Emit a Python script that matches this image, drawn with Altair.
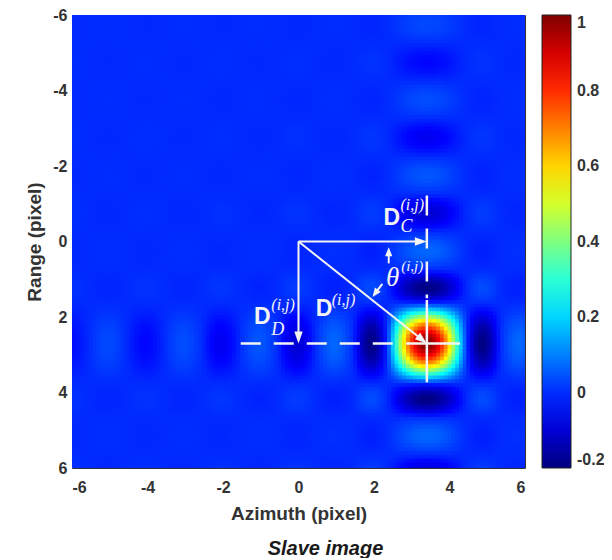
import math
import altair as alt
import pandas as pd

alt.data_transformers.disable_max_rows()

# ---------------- data ----------------
# sample positions of the image (pixel units), 0.1 apart
azimuth_grid = [round(-6 + 0.1 * i, 1) for i in range(121)]
range_grid = [round(-6 + 0.1 * i, 1) for i in range(121)]

# response profile along azimuth (row through the target, range = 2.7)
azimuth_profile = [
    -0.035, -0.032, -0.026, -0.016, -0.005, 0.005, 0.015, 0.025, 0.032, 0.035,
    0.035, 0.032, 0.025, 0.015, 0.005, -0.007, -0.02, -0.032, -0.04, -0.045,
    -0.045, -0.04, -0.032, -0.02, -0.007, 0.006, 0.018, 0.028, 0.036, 0.04,
    0.04, 0.036, 0.028, 0.018, 0.006, -0.01, -0.03, -0.045, -0.058, -0.065,
    -0.065, -0.058, -0.045, -0.03, -0.01, 0.008, 0.022, 0.035, 0.045, 0.05,
    0.05, 0.045, 0.035, 0.022, 0.008, -0.015, -0.045, -0.07, -0.09, -0.10,
    -0.10, -0.09, -0.07, -0.045, -0.015, 0.01, 0.03, 0.048, 0.062, 0.07,
    0.07, 0.062, 0.048, 0.03, 0.01, -0.03, -0.085, -0.135, -0.175, -0.195,
    -0.19, -0.155, -0.10, -0.03, 0.07, 0.19, 0.32, 0.45, 0.58, 0.70,
    0.80, 0.88, 0.945, 0.985, 1.00,
    0.985, 0.945, 0.88, 0.80, 0.70, 0.58, 0.45, 0.32, 0.19, 0.07,
    -0.03, -0.10, -0.155, -0.19, -0.195, -0.175, -0.135, -0.085, -0.03, 0.01,
    0.03, 0.048, 0.062, 0.07, 0.07, 0.062,
]

# response profile along range (column through the target, azimuth = 3.4)
range_profile = [
    0.025, 0.032, 0.035, 0.035, 0.032, 0.025, 0.015, 0.005, -0.007, -0.02,
    -0.032, -0.04, -0.045, -0.045, -0.04, -0.032, -0.02, -0.007, 0.006, 0.018,
    0.028, 0.036, 0.04, 0.04, 0.036, 0.028, 0.018, 0.006, -0.01, -0.03,
    -0.045, -0.058, -0.065, -0.065, -0.058, -0.045, -0.03, -0.01, 0.008, 0.022,
    0.035, 0.045, 0.05, 0.05, 0.045, 0.035, 0.022, 0.008, -0.015, -0.045,
    -0.07, -0.09, -0.10, -0.10, -0.09, -0.07, -0.045, -0.015, 0.01, 0.03,
    0.048, 0.062, 0.07, 0.07, 0.062, 0.048, 0.03, 0.01, -0.03, -0.085,
    -0.135, -0.175, -0.195, -0.19, -0.155, -0.10, -0.03, 0.07, 0.19, 0.32,
    0.45, 0.58, 0.70, 0.80, 0.88, 0.945, 0.985,
    1.00,
    0.985, 0.945, 0.88, 0.80, 0.70, 0.58, 0.45, 0.32, 0.19, 0.07,
    -0.03, -0.10, -0.155, -0.19, -0.195, -0.175, -0.135, -0.085, -0.03, 0.01,
    0.03, 0.048, 0.062, 0.07, 0.07, 0.062, 0.048, 0.03, 0.01, -0.015,
    -0.045, -0.07, -0.09,
]

axis_ticks = [-6, -4, -2, 0, 2, 4, 6]
colorbar_ticks = [1, 0.8, 0.6, 0.4, 0.2, 0, -0.2]

# jet colour map
jet_domain = [-0.2, -0.05, 0.25, 0.55, 0.85, 1.0]
jet_colors = ["#000080", "#0000ff", "#00ffff", "#ffff00", "#ff0000", "#800000"]

# annotation geometry (data units)
origin = (0.0, 0.0)
target = (3.4, 2.7)
arrow_tails = [origin, origin, origin]
arrow_tips = [(target[0], 0.0), (0.0, target[1]), target]
theta_tails = [(2.39, 0.58), (2.22, 1.12)]
theta_tips = [(2.39, 0.15), (1.96, 1.47)]
dashed_segments = [((-1.53, 2.7), (2.51, 2.7)), ((3.4, -1.22), (3.4, 1.5))]
solid_segments = [((2.85, 2.7), (4.28, 2.7)), ((3.4, 1.55), (3.4, 3.73))]

# labels: (azimuth, range, text)
bold_labels = [(2.25, -0.45, "D"), (0.46, 1.98, "D"), (-1.18, 2.19, "D")]
script_labels = [
    (2.70, -0.84, "(i,j)", 16), (2.70, -0.26, "C", 18),
    (2.72, 0.77, "(i,j)", 15),
    (0.88, 1.68, "(i,j)", 16),
    (-0.72, 1.82, "(i,j)", 16), (-0.72, 2.47, "D", 18),
]
theta_labels = [(2.32, 1.17, "θ")]

# ---------------- build tables ----------------
rows = []
for i, az in enumerate(azimuth_grid):
    for j, rg in enumerate(range_grid):
        rows.append({"az": az, "rg": rg,
                     "v": round(azimuth_profile[i] * range_profile[j], 4)})
heat_df = pd.DataFrame(rows)


def arrow_table(tails, tips, shorten):
    recs = []
    for (x0, y0), (x1, y1) in zip(tails, tips):
        dx, dy = x1 - x0, y1 - y0
        n = math.hypot(dx, dy)
        ang = math.degrees(math.atan2(dy, dx)) % 360
        recs.append({"x": x0, "y": y0,
                     "x2": x1 - dx / n * shorten, "y2": y1 - dy / n * shorten,
                     "tx": x1, "ty": y1, "ang": ang})
    return pd.DataFrame(recs)


main_df = arrow_table(arrow_tails, arrow_tips, 0.2)
theta_df = arrow_table(theta_tails, theta_tips, 0.15)
dash_df = pd.DataFrame([{"x": a[0], "y": a[1], "x2": b[0], "y2": b[1]} for a, b in dashed_segments])
solid_df = pd.DataFrame([{"x": a[0], "y": a[1], "x2": b[0], "y2": b[1]} for a, b in solid_segments])
bold_df = pd.DataFrame([{"x": a, "y": b, "t": t} for a, b, t in bold_labels])
script_df = pd.DataFrame([{"x": a, "y": b, "t": t, "fs": s} for a, b, t, s in script_labels])
theta_lab_df = pd.DataFrame([{"x": a, "y": b, "t": t} for a, b, t in theta_labels])

# ---------------- chart ----------------
FONT = "Liberation Sans"
TXT = "#333333"
WHITE = "#f4f4f4"
SIZE = 453

x_scale = alt.Scale(domain=[-6, 6], nice=False, zero=False)
y_scale = alt.Scale(domain=[-6, 6], nice=False, zero=False, reverse=True)

x_axis = alt.Axis(values=axis_ticks, labelExpr="datum.value + ''", ticks=False, domain=False,
                  grid=False, labelFont=FONT, labelFontSize=16, labelFontWeight="bold",
                  labelColor=TXT, labelPadding=11, titleFont=FONT, titleFontSize=19,
                  titleFontWeight="bold", titleColor=TXT, titlePadding=9)
y_axis = alt.Axis(values=axis_ticks, labelExpr="datum.value + ''", ticks=False, domain=False,
                  grid=False, labelFont=FONT, labelFontSize=16, labelFontWeight="bold",
                  labelColor=TXT, labelPadding=5, titleFont=FONT, titleFontSize=19,
                  titleFontWeight="bold", titleColor=TXT, titlePadding=8)

legend = alt.Legend(type="gradient", direction="vertical", title=None, values=colorbar_ticks,
                    labelExpr="datum.value + ''", gradientLength=SIZE, gradientThickness=29,
                    offset=17, padding=0, labelOffset=6, labelOverlap=False,
                    labelFont=FONT, labelFontSize=16, labelFontWeight="bold", labelColor=TXT,
                    labelBaseline="middle", gradientStrokeColor="#222222", gradientStrokeWidth=1)

heat = alt.Chart(heat_df).transform_calculate(
    x1="datum.az - 0.05", xe="datum.az + 0.09", y1="datum.rg - 0.05", ye="datum.rg + 0.09"
).mark_rect(clip=True, strokeWidth=0).encode(
    x=alt.X("x1:Q", scale=x_scale, axis=x_axis, title="Azimuth (pixel)"),
    x2="xe:Q",
    y=alt.Y("y1:Q", scale=y_scale, axis=y_axis, title="Range (pixel)"),
    y2="ye:Q",
    color=alt.Color("v:Q", scale=alt.Scale(domain=jet_domain, range=jet_colors, clamp=True,
                                           interpolate="rgb"), legend=legend),
)


def seg_layer(df, **kw):
    return alt.Chart(df).mark_rule(color=WHITE, **kw).encode(
        x=alt.X("x:Q", scale=x_scale), y=alt.Y("y:Q", scale=y_scale), x2="x2:Q", y2="y2:Q")


dashed = seg_layer(dash_df, strokeWidth=2.5, strokeDash=[20, 13])
solid = seg_layer(solid_df, strokeWidth=2.5)
main_lines = seg_layer(main_df, strokeWidth=2)
theta_lines = seg_layer(theta_df, strokeWidth=2)

main_heads = alt.Chart(main_df).mark_point(
    shape="M0,0L-2,-0.7L-2,0.7Z", filled=True, color=WHITE, opacity=1, size=144, strokeWidth=0
).encode(x=alt.X("tx:Q", scale=x_scale), y=alt.Y("ty:Q", scale=y_scale),
         angle=alt.Angle("ang:Q", scale=None))
theta_heads = alt.Chart(theta_df).mark_point(
    shape="M0,0L-2,-0.8L-2,0.8Z", filled=True, color=WHITE, opacity=1, size=81, strokeWidth=0
).encode(x=alt.X("tx:Q", scale=x_scale), y=alt.Y("ty:Q", scale=y_scale),
         angle=alt.Angle("ang:Q", scale=None))

bold_text = alt.Chart(bold_df).mark_text(
    font=FONT, fontSize=23, fontWeight="bold", color=WHITE, align="left", baseline="alphabetic"
).encode(x=alt.X("x:Q", scale=x_scale), y=alt.Y("y:Q", scale=y_scale), text="t:N")
script_text = alt.Chart(script_df).mark_text(
    font="Liberation Serif", fontStyle="italic", color=WHITE, align="left", baseline="alphabetic"
).encode(x=alt.X("x:Q", scale=x_scale), y=alt.Y("y:Q", scale=y_scale), text="t:N",
         size=alt.Size("fs:Q", scale=None))
theta_text = alt.Chart(theta_lab_df).mark_text(
    font="Liberation Serif", fontStyle="italic", fontSize=27, color=WHITE, align="left",
    baseline="alphabetic"
).encode(x=alt.X("x:Q", scale=x_scale), y=alt.Y("y:Q", scale=y_scale), text="t:N")

chart = alt.layer(
    heat, dashed, solid, main_lines, theta_lines, main_heads, theta_heads,
    bold_text, script_text, theta_text,
).properties(
    width=SIZE, height=SIZE,
    autosize=alt.AutoSizeParams(type="none"),
    padding={"left": 64, "top": 7, "right": 79, "bottom": 90},
    title=alt.TitleParams("Slave image", orient="bottom", anchor="middle", font=FONT,
                          fontSize=20, fontWeight="bold", fontStyle="italic",
                          color="#1a1a1a", offset=16, dx=27),
).configure_view(stroke="#333333", strokeWidth=1)

chart.save("out.html", embed_options={"renderer": "svg", "actions": False})
